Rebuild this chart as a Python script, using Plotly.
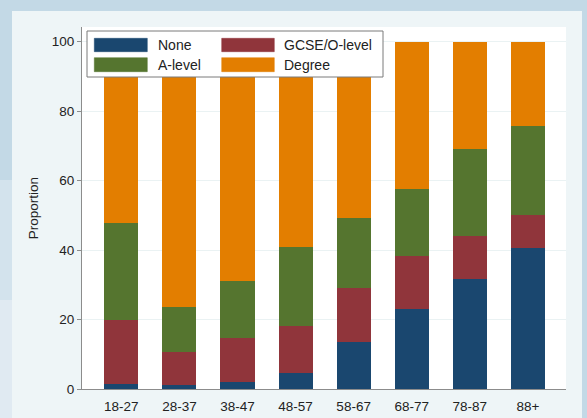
import plotly.graph_objects as go

age_groups = ["18-27", "28-37", "38-47", "48-57", "58-67", "68-77", "78-87", "88+"]
none_vals = [1.4, 1.2, 2.0, 4.5, 13.4, 23.0, 31.7, 40.6]
gcse_vals = [18.6, 9.4, 12.7, 13.7, 15.7, 15.2, 12.2, 9.6]
alevel_vals = [27.8, 13.1, 16.4, 22.6, 20.2, 19.5, 25.2, 25.4]
degree_vals = [52.2, 76.3, 68.9, 59.2, 50.7, 42.3, 30.9, 24.4]
series_names = ["None", "GCSE/O-level", "A-level", "Degree"]
series_colors = ["#1a476f", "#90353b", "#55752f", "#e37e00"]
y_ticks = [0, 20, 40, 60, 80, 100]

W, H = 587, 418
L, R, T, B = 82, 21, 27, 29
PW, PH = W - L - R, H - T - B


def px(x):
    return (x - L) / PW


def py(y):
    return (H - B - y) / PH


fig = go.Figure()
for name, vals, col in zip(series_names, [none_vals, gcse_vals, alevel_vals, degree_vals], series_colors):
    fig.add_trace(go.Bar(x=age_groups, y=vals, name=name, marker=dict(color=col, line=dict(width=0)),
                         showlegend=False))

shapes = []
# left edge strip (slide background getting lighter downward)
shapes.append(dict(type="rect", xref="paper", yref="paper", x0=px(0), x1=px(12), y0=py(H), y1=py(180),
                   fillcolor="#d3e3ed", line=dict(width=0), layer="below"))
shapes.append(dict(type="rect", xref="paper", yref="paper", x0=px(0), x1=px(12), y0=py(H), y1=py(300),
                   fillcolor="#e0eaf2", line=dict(width=0), layer="below"))
# graph panel
shapes.append(dict(type="rect", xref="paper", yref="paper", x0=px(12), x1=px(582), y0=py(H + 5), y1=py(11),
                   fillcolor="#eef5f7", line=dict(width=0), layer="below"))
# plot region
shapes.append(dict(type="rect", xref="paper", yref="paper", x0=0, x1=1, y0=0, y1=1,
                   fillcolor="white", line=dict(width=0), layer="below"))

# legend box
shapes.append(dict(type="rect", xref="paper", yref="paper", x0=px(87), x1=px(383), y0=py(77), y1=py(31),
                   fillcolor="white", line=dict(color="#7a7a7a", width=1)))
annotations = []
cols_x = [(94.3, 147.3, 155.5), (221.7, 274.3, 281.5)]
rows_y = [(38.3, 51.7), (57.7, 71.7)]
for i, (name, col) in enumerate(zip(series_names, series_colors)):
    r, c = divmod(i, 2)
    sx0, sx1, tx = cols_x[c]
    sy0, sy1 = rows_y[r]
    shapes.append(dict(type="rect", xref="paper", yref="paper", x0=px(sx0), x1=px(sx1), y0=py(sy1), y1=py(sy0),
                       fillcolor=col, line=dict(color=col, width=0.5)))
    annotations.append(dict(xref="paper", yref="paper", x=px(tx), y=py((sy0 + sy1) / 2), text=name,
                            showarrow=False, xanchor="left", yanchor="middle",
                            font=dict(size=14, color="#222222")))

fig.update_layout(
    width=W, height=H,
    margin=dict(l=L, r=R, t=T, b=B, autoexpand=False),
    barmode="stack",
    bargap=0.414,
    paper_bgcolor="#c3d9e6",
    plot_bgcolor="white",
    font=dict(family="Arial, Liberation Sans, sans-serif", size=13, color="#222222"),
    shapes=shapes,
    annotations=annotations,
    showlegend=False,
)
fig.update_xaxes(range=[-0.678, 7.657], showline=True, linecolor="#8c8c8c", linewidth=1.2,
                 ticks="", showgrid=False, tickfont=dict(size=13.5, color="#222222"),
                 ticklabelstandoff=5, automargin=False, fixedrange=True)
fig.update_yaxes(range=[0, 104.2], tickvals=y_ticks, showline=True, linecolor="#8c8c8c", linewidth=1.2,
                 ticks="outside", ticklen=4, tickcolor="#8c8c8c", showgrid=True, gridcolor="#eaf2f3",
                 gridwidth=1, zeroline=False, tickfont=dict(size=13.5, color="#222222"), automargin=False,
                 title=dict(text="Proportion", font=dict(size=13.5, color="#222222"), standoff=9))

fig.write_html("out.html", config={"displayModeBar": False},
               post_script="document.body.style.margin='0';document.body.style.overflow='hidden';")
